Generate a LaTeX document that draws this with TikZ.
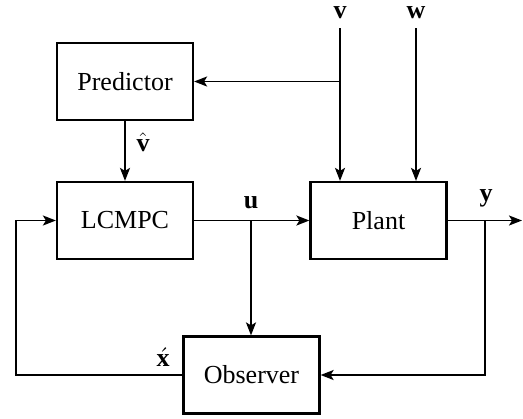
\documentclass[tikz,border=0pt]{standalone}
\usepackage{fontspec}
\setmainfont{Liberation Serif}
\usepackage{amsmath}
\usetikzlibrary{arrows.meta, calc}
\tikzset{
  blockbox/.style={draw=black, line width=1.1pt, fill=white, align=center,
    inner sep=0pt, minimum width=68pt, minimum height=38.5pt,
    font=\fontsize{13}{15}\selectfont},
  sigarrow/.style={-{Stealth[length=6.5pt, width=5pt, inset=1.5pt]}, line width=0.95pt, black},
  siglabel/.style={font=\fontsize{13}{15}\selectfont, inner sep=1pt},
}
\begin{document}
\begin{tikzpicture}[x=0.5pt,y=-0.5pt]
  \useasboundingbox (0,0) rectangle (523,418);
  % Bloecke
  \node[blockbox] (pred) at (125,81.5) {Predictor};
  \node[blockbox] (mpc) at (125,220.5) {LCMPC};
  \node[blockbox] (plant) at (378.5,220.5) {Plant};
  \node[blockbox] (obs) at (251.5,375) {Observer};
  % Eingaenge und Verzweigungen
  \coordinate (vin) at (340,28);
  \coordinate (win) at (416,28);
  \coordinate (usplit) at (251,220.5);
  \coordinate (ysplit) at (485,220.5);
  \coordinate (yout) at (522,220.5);
  \coordinate (xleft) at (16,375);
  % Signale
  \draw[sigarrow] (vin) -- (vin |- plant.north);
  \draw[sigarrow] (vin |- pred.east) -- (pred.east);
  \draw[sigarrow] (win) -- (win |- plant.north);
  \draw[sigarrow] (pred) -- (mpc);
  \draw[sigarrow] (mpc) -- (plant);
  \draw[sigarrow] (usplit) -- (usplit |- obs.north);
  \draw[sigarrow] (plant) -- (yout);
  \draw[sigarrow] (ysplit) |- (obs.east);
  \draw[sigarrow] (obs.west) -- (xleft) |- (mpc.west);
  % Beschriftungen
  \node[siglabel] (vlab) at (340,13) {$\mathbf{v}$};
  \node[siglabel] (wlab) at (416,13) {$\mathbf{w}$};
  \node[siglabel] (vhatlab) at (143,142) {$\hat{\mathbf{v}}$};
  \node[siglabel] (ulab) at (251,203) {$\mathbf{u}$};
  \node[siglabel] (ylab) at (486,198) {$\mathbf{y}$};
  \node[siglabel] (xlab) at (163,357) {$\acute{\mathbf{x}}$};
\end{tikzpicture}
\end{document}
